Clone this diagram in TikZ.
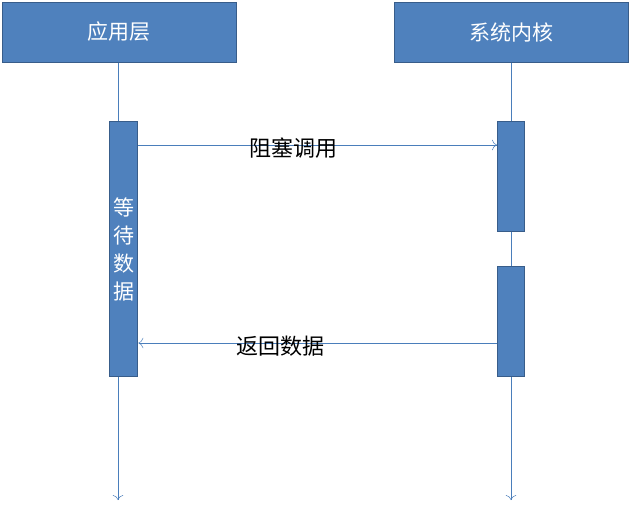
\documentclass[tikz,border=0pt]{standalone}
\usepackage{fontspec}
\newfontfamily\cjk{Noto Sans CJK SC}
\usetikzlibrary{calc,arrows.meta}
\definecolor{boxfill}{HTML}{4F81BD}
\definecolor{boxline}{HTML}{385D8A}
\definecolor{lifeline}{HTML}{4A7EBB}
\begin{document}
\begin{tikzpicture}[x=1pt,y=-1pt,
  actor/.style={rectangle, fill=boxfill, draw=boxline, line width=1pt,
                minimum width=234pt, minimum height=60pt, text=white,
                font=\cjk\fontsize{21}{24}\selectfont},
  bar/.style={rectangle, fill=boxfill, draw=boxline, line width=1pt,
              minimum width=27pt, anchor=north},
  msg/.style={draw=lifeline, line width=0.5pt, -{To[length=5pt]}},
  label/.style={font=\cjk\fontsize{22}{24}\selectfont}
]
\useasboundingbox (0,0) rectangle (630,509);
\node [actor] (app) at (119,32) {应用层};
\node [actor] (kern) at (511,32) {系统内核};

\coordinate (append) at (118,500);
\coordinate (kernend) at (511,500);
\draw [msg] (app.south -| append) -- (append);
\draw [msg] (kern.south -| kernend) -- (kernend);

\node [bar, minimum height=255pt, text=white, text width=22pt, align=center,
       font=\cjk\fontsize{21}{28}\selectfont] (wait) at (123.5,121) {等\\待\\数\\据};
\node [bar, minimum height=110pt] (call) at (511,121) {};
\node [bar, minimum height=110pt] (ret) at (511,266) {};

\draw [msg] ($(wait.north east)+(0,24)$) -- ($(call.north west)+(0,24)$)
  node [label, midway, xshift=-24pt, yshift=-3pt] (calltext) {阻塞调用};
\draw [msg] ($(ret.south west)+(0,-34)$) -- ($(wait.south east)+(0,-34)$)
  node [label, midway, xshift=-37pt, yshift=-3pt] (rettext) {返回数据};
\end{tikzpicture}
\end{document}
